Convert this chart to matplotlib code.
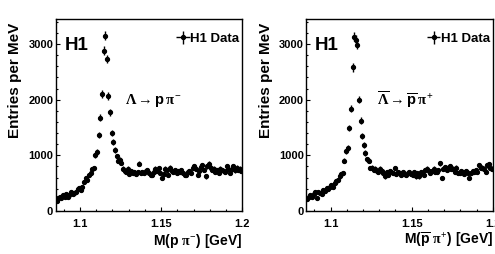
import numpy as np
import matplotlib
matplotlib.use('Agg')
import matplotlib.pyplot as plt
from matplotlib.ticker import FixedLocator, MultipleLocator, AutoMinorLocator

plt.rcParams['font.family'] = ['Liberation Sans Narrow', 'Liberation Sans', 'DejaVu Sans']
plt.rcParams['font.weight'] = 'bold'
plt.rcParams['mathtext.fontset'] = 'custom'
plt.rcParams['mathtext.rm'] = 'Liberation Serif'
plt.rcParams['mathtext.it'] = 'Liberation Serif'
plt.rcParams['mathtext.bf'] = 'Liberation Sans:bold'

# histogram binning: 1 MeV bins from 1.085 GeV
bin_lo = 1.085
bin_w = 0.001

# Lambda -> p pi-  (entries per MeV)
counts_lam = [
    180, 230, 250, 240, 280, 260, 300, 250, 290, 340,
    300, 330, 350, 400, 420, 370, 430, 520, 600, 560,
    640, 680, 750, 770, 1000, 1060, 1370, 1680, 2100, 2880,
    3150, 2730, 2070, 1770, 1400, 1240, 1100, 980, 900, 920,
    870, 760, 720, 700, 760, 660, 720, 680, 700, 670,
    700, 850, 690, 700, 680, 720, 740, 690, 650, 640,
    700, 760, 720, 770, 680, 600, 660, 760, 740, 640,
    780, 720, 700, 740, 690, 720, 700, 740, 680, 640,
    650, 700, 720, 690, 780, 800, 760, 640, 720, 790,
    820, 740, 620, 800, 850, 780, 740, 760, 700, 730,
    690, 760, 740, 720, 700, 800, 760, 690, 760, 810,
    730, 780, 740, 760, 720,
]

# anti-Lambda -> anti-p pi+
counts_alam = [
    220, 260, 280, 250, 300, 340, 230, 350, 320, 300,
    380, 360, 420, 390, 440, 470, 430, 500, 540, 560,
    620, 660, 680, 900, 1070, 1130, 1490, 1840, 2580, 3130,
    3080, 2990, 2000, 1620, 1350, 1190, 1040, 930, 900, 770,
    780, 740, 760, 720, 700, 760, 720, 690, 620, 700,
    640, 720, 700, 680, 770, 660, 700, 680, 650, 700,
    660, 640, 690, 700, 660, 650, 700, 620, 680, 620,
    700, 680, 650, 740, 760, 710, 690, 720, 760, 700,
    700, 740, 860, 600, 760, 790, 740, 780, 800, 760,
    760, 700, 780, 680, 680, 720, 700, 660, 720, 690,
    600, 680, 720, 700, 740, 700, 820, 780, 780, 760,
    700, 820, 840, 780, 760,
]

x_ticks = [1.1, 1.15, 1.2]
x_tick_labels = ['1.1', '1.15', '1.2']
y_ticks = [0, 1000, 2000, 3000]

panels = [
    (counts_lam, r'$\Lambda \rightarrow \mathbf{p}\,\pi^{-}$', r'M(p $\pi^{-}$) [GeV]', 55.7, 0.372, 0.557),
    (counts_alam, r'$\overline{\Lambda} \rightarrow \overline{\mathbf{p}}\,\pi^{+}$',
     r'M($\overline{\mathbf{p}}$ $\pi^{+}$) [GeV]', 306.3, 0.377, 0.547),
]

W, H = 495, 254
fig = plt.figure(figsize=(W / 100, H / 100), dpi=100)

for counts, decay, xlab, left_px, tx, ty in panels:
    counts = np.array(counts, dtype=float)
    mass = bin_lo + bin_w * (np.arange(len(counts)) + 0.5)
    err = 1.5 * np.sqrt(counts)

    ax = fig.add_axes([left_px / W, (H - 211) / H, 186.5 / W, 192 / H])
    ax.errorbar(mass, counts, yerr=err, xerr=bin_w / 2, fmt='o', color='k',
                markersize=2.8, elinewidth=1.0, capsize=0, label='H1 Data')
    ax.set_xlim(1.085, 1.2)
    ax.set_ylim(0, 3450)

    ax.xaxis.set_major_locator(FixedLocator(x_ticks))
    ax.set_xticklabels(x_tick_labels)
    ax.xaxis.set_minor_locator(MultipleLocator(0.01))
    ax.yaxis.set_major_locator(FixedLocator(y_ticks))
    ax.yaxis.set_minor_locator(AutoMinorLocator(5))
    ax.tick_params(which='both', direction='in', top=False, right=False, labelsize=8, width=0.8)
    ax.tick_params(axis='x', which='major', length=3.2, pad=5.5)
    ax.tick_params(axis='x', which='minor', length=1.6)
    ax.tick_params(axis='y', which='major', length=3.0, pad=1.8)
    ax.tick_params(axis='y', which='minor', length=1.5)
    for s in ax.spines.values():
        s.set_linewidth(1.0)

    ax.text(0.046, 0.84, 'H1', transform=ax.transAxes, fontsize=13.5, fontweight='bold', va='baseline')
    ax.text(tx, ty, decay, transform=ax.transAxes, fontsize=10.5, va='baseline')
    ax.legend(loc='center right', bbox_to_anchor=(0.985, 0.896), frameon=False, fontsize=9.5,
              borderpad=0, borderaxespad=0, handlelength=0.7, handletextpad=0.2)

    fig.text((left_px + 186.5) / W, (H - 245) / H, xlab, ha='right', va='baseline', fontsize=10)
    fig.text((left_px - 40.5) / W, (H - 23) / H, 'Entries per MeV', rotation=90,
             ha='center', va='top', fontsize=11)

fig.savefig('out.png', dpi=100)
